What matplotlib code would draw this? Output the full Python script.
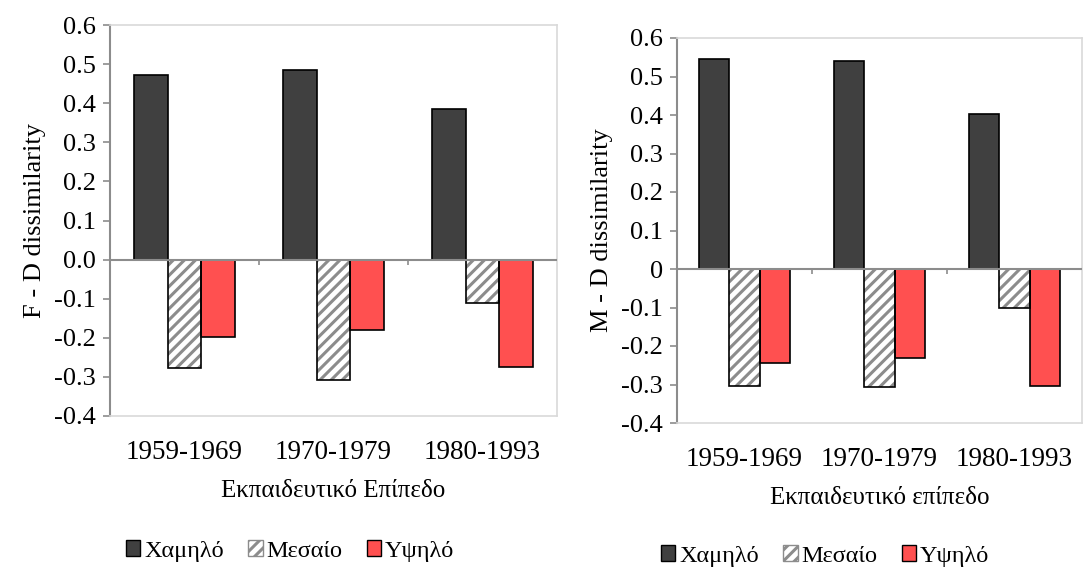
import numpy as np
import matplotlib.pyplot as plt
from matplotlib.patches import Patch

plt.rcParams['font.family'] = ['Liberation Serif', 'DejaVu Serif']
plt.rcParams['hatch.linewidth'] = 2.2

periods = ['1959-1969', '1970-1979', '1980-1993']
levels = ['Χαμηλό', 'Μεσαίο', 'Υψηλό']

# F - D dissimilarity
f_low = [0.473, 0.485, 0.385]
f_mid = [-0.278, -0.307, -0.111]
f_high = [-0.198, -0.180, -0.275]

# M - D dissimilarity
m_low = [0.546, 0.539, 0.403]
m_mid = [-0.304, -0.307, -0.101]
m_high = [-0.243, -0.232, -0.304]

yticks = [0.6, 0.5, 0.4, 0.3, 0.2, 0.1, 0.0, -0.1, -0.2, -0.3, -0.4]

DARK = '#404040'
RED = '#ff5050'
HATCH_GRAY = '#8c8c8c'
AXIS_GRAY = '#8c8c8c'
BOX_GRAY = '#d9d9d9'


def draw_panel(ax, low, mid, high, ylabel, xlabel, zero_label):
    x = np.arange(len(periods))
    w = 0.225
    ax.bar(x - w, low, w, color=DARK, edgecolor='black', linewidth=1.2, zorder=3)
    # hatched middle bars: gray stripes first, then a black outline on top
    ax.bar(x, mid, w, color='white', edgecolor=HATCH_GRAY, hatch='///', linewidth=0, zorder=3)
    ax.bar(x, mid, w, fill=False, edgecolor='black', linewidth=1.2, zorder=4)
    ax.bar(x + w, high, w, color=RED, edgecolor='black', linewidth=1.2, zorder=3)

    ax.set_xlim(-0.5, 2.5)
    ax.set_ylim(-0.4, 0.6)
    ax.set_yticks(yticks)
    labels = [f'{t:.1f}' for t in yticks]
    labels[6] = zero_label
    ax.set_yticklabels(labels, fontsize=19)
    ax.tick_params(axis='y', direction='out', length=5, color=AXIS_GRAY, width=1.2, pad=5)

    ax.set_xticks(x)
    ax.set_xticklabels(periods, fontsize=19.5)
    ax.tick_params(axis='x', length=0, pad=17)

    ax.axhline(0, color=AXIS_GRAY, linewidth=1.5, zorder=5)
    ax.vlines([0.5, 1.5], -0.014, 0, color=AXIS_GRAY, linewidth=1.2, zorder=5)

    ax.spines['left'].set_color(AXIS_GRAY)
    ax.spines['left'].set_linewidth(1.5)
    for s in ['top', 'right', 'bottom']:
        ax.spines[s].set_color(BOX_GRAY)
        ax.spines[s].set_linewidth(1.2)

    ax.set_ylabel(ylabel, fontsize=19, labelpad=6)
    ax.set_xlabel(xlabel, fontsize=18, labelpad=11)


fig = plt.figure(figsize=(10.84, 5.74), dpi=100)

ax1 = fig.add_axes([110 / 1084, 1 - 416 / 574, 447 / 1084, 391 / 574])
draw_panel(ax1, f_low, f_mid, f_high, 'F - D dissimilarity', 'Εκπαιδευτικό Επίπεδο', '0.0')

ax2 = fig.add_axes([677 / 1084, 1 - 423 / 574, 405 / 1084, 385 / 574])
draw_panel(ax2, m_low, m_mid, m_high, 'M - D dissimilarity', 'Εκπαιδευτικό επίπεδο', '0')

handles = [
    Patch(facecolor=DARK, edgecolor='black', label=levels[0]),
    Patch(facecolor='white', edgecolor=HATCH_GRAY, hatch='///', label=levels[1]),
    Patch(facecolor=RED, edgecolor='black', label=levels[2]),
]
for cx, cy in [(290 / 1084, 1 - 551 / 574), (825 / 1084, 1 - 556 / 574)]:
    fig.legend(handles=handles, loc='center', bbox_to_anchor=(cx, cy), ncol=3,
               frameon=False, fontsize=17.5, handlelength=0.6, handleheight=0.6,
               handletextpad=0.15, columnspacing=1.0)

fig.savefig('out.png', dpi=100)
